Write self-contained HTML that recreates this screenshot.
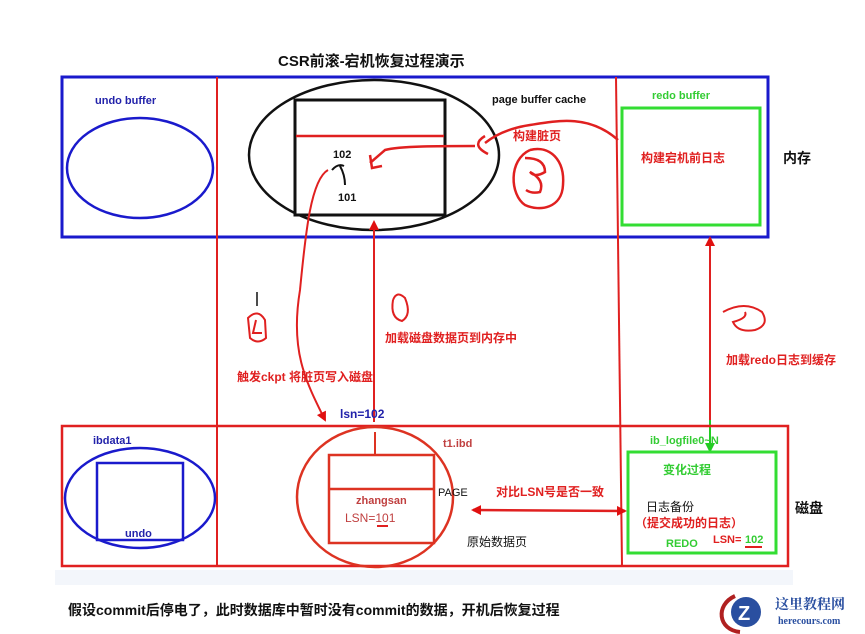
<!DOCTYPE html>
<html><head><meta charset="utf-8"><style>
html,body{margin:0;padding:0;background:#fff;}
svg{display:block;font-family:"Liberation Sans","Noto Sans CJK SC",sans-serif;}
</style></head><body>
<svg width="865" height="634" viewBox="0 0 865 634" xmlns="http://www.w3.org/2000/svg">
<defs>
<marker id="ar" markerUnits="userSpaceOnUse" markerWidth="10" markerHeight="10" refX="8" refY="5" orient="auto-start-reverse"><path d="M0,0 L10,5 L0,10 z" fill="#e01010"/></marker>
<marker id="ag" markerUnits="userSpaceOnUse" markerWidth="10" markerHeight="10" refX="8" refY="5" orient="auto"><path d="M0,0 L10,5 L0,10 z" fill="#22cc22"/></marker>
</defs>
<rect width="865" height="634" fill="#fff"/>
<text x="278" y="66" font-size="15" font-weight="bold" fill="#111">CSR前滚-宕机恢复过程演示</text>
<rect x="62" y="77" width="706" height="160" fill="none" stroke="#1a1acc" stroke-width="3"/>
<line x1="217" y1="77" x2="217" y2="566" stroke="#e02020" stroke-width="2"/>
<line x1="616" y1="77" x2="622" y2="566" stroke="#e02020" stroke-width="2"/>
<text x="95" y="104" font-size="11" font-weight="bold" fill="#2222aa">undo buffer</text>
<ellipse cx="140" cy="168" rx="73" ry="50" fill="none" stroke="#1a1acc" stroke-width="2.5"/>
<ellipse cx="374" cy="155" rx="125" ry="75" fill="none" stroke="#111" stroke-width="2.5"/>
<rect x="295" y="100" width="150" height="115" fill="#fff" stroke="#111" stroke-width="3"/>
<line x1="296" y1="136" x2="444" y2="136" stroke="#e02020" stroke-width="2.5"/>
<text x="333" y="158" font-size="11" font-weight="bold" fill="#111">102</text>
<text x="338" y="201" font-size="11" font-weight="bold" fill="#111">101</text>
<path d="M332,170 Q338,163 344,166 M340,166 Q345,175 345,185" fill="none" stroke="#111" stroke-width="2"/>
<text x="492" y="103" font-size="11" font-weight="bold" fill="#111">page buffer cache</text>
<text x="513" y="140" font-size="12" font-weight="bold" fill="#e02020">构建脏页</text>
<text x="652" y="99" font-size="11" font-weight="bold" fill="#33cc33">redo buffer</text>
<rect x="622" y="108" width="138" height="117" fill="none" stroke="#33dd33" stroke-width="3"/>
<text x="641" y="162" font-size="12" font-weight="bold" fill="#e02020">构建宕机前日志</text>
<text x="783" y="163" font-size="14" font-weight="bold" fill="#111">内存</text>
<path d="M618,140 C590,115 560,120 530,125 C510,128 495,135 485,143" fill="none" stroke="#e02020" stroke-width="2.5"/>
<path d="M485,136 Q470,145 488,154 M475,146 C440,146 400,146 385,150 L370,163" fill="none" stroke="#e02020" stroke-width="2.5"/>
<path d="M370,155 L372,168 L382,166" fill="none" stroke="#e02020" stroke-width="2.5"/>
<path d="M530,150 C550,145 565,160 563,185 C562,208 540,212 525,205 C510,195 508,160 530,150 M525,158 Q545,158 545,172 Q535,178 530,172 Q545,180 540,192 Q532,194 526,190" fill="none" stroke="#e02020" stroke-width="2.5"/>
<line x1="374" y1="422" x2="374" y2="222" stroke="#e02020" stroke-width="2" marker-end="url(#ar)"/>
<path d="M393,300 Q397,290 405,298 Q412,315 402,321 Q390,318 393,300" fill="none" stroke="#e02020" stroke-width="2"/>
<text x="385" y="342" font-size="12" font-weight="bold" fill="#e02020">加载磁盘数据页到内存中</text>
<line x1="710" y1="420" x2="710" y2="238" stroke="#e02020" stroke-width="2" marker-end="url(#ar)"/>
<line x1="710" y1="420" x2="710" y2="451" stroke="#22cc22" stroke-width="2" marker-end="url(#ag)"/>
<path d="M723,312 Q745,300 762,312 Q770,325 755,330 Q738,333 733,322 Q748,318 745,312" fill="none" stroke="#e02020" stroke-width="2"/>
<text x="726" y="364" font-size="12" font-weight="bold" fill="#e02020">加载redo日志到缓存</text>
<path d="M328,170 C310,180 305,240 300,290 C290,350 305,380 325,420" fill="none" stroke="#e02020" stroke-width="2" marker-end="url(#ar)"/>
<line x1="257" y1="292" x2="257" y2="306" stroke="#111" stroke-width="1.5"/>
<path d="M248,318 Q258,308 265,320 L266,338 Q258,345 250,338 Z M256,320 L253,333 L262,333" fill="none" stroke="#e02020" stroke-width="2"/>
<text x="237" y="381" font-size="12" font-weight="bold" fill="#e02020">触发ckpt 将脏页写入磁盘</text>
<text x="340" y="418" font-size="12" font-weight="bold" fill="#2222aa">lsn=102</text>
<rect x="62" y="426" width="726" height="140" fill="none" stroke="#e02020" stroke-width="2.5"/>
<text x="93" y="444" font-size="11" font-weight="bold" fill="#2222aa">ibdata1</text>
<ellipse cx="140" cy="498" rx="75" ry="50" fill="none" stroke="#1a1acc" stroke-width="2.5"/>
<rect x="97" y="463" width="86" height="77" fill="none" stroke="#1a1acc" stroke-width="2.5"/>
<text x="125" y="537" font-size="11" font-weight="bold" fill="#2222aa">undo</text>
<ellipse cx="375" cy="497" rx="78" ry="70" fill="none" stroke="#dd3322" stroke-width="2.5"/>
<line x1="375" y1="432" x2="375" y2="455" stroke="#dd3322" stroke-width="2"/>
<rect x="329" y="455" width="105" height="88" fill="#fff" stroke="#dd3322" stroke-width="2.5"/>
<line x1="330" y1="489" x2="433" y2="489" stroke="#dd3322" stroke-width="2.5"/>
<text x="356" y="504" font-size="11" font-weight="bold" fill="#c04040">zhangsan</text>
<text x="345" y="522" font-size="12" fill="#c04040">LSN=101</text>
<line x1="377" y1="526" x2="388" y2="526" stroke="#e02020" stroke-width="2"/>
<text x="438" y="496" font-size="11" fill="#111">PAGE</text>
<text x="443" y="447" font-size="11" font-weight="bold" fill="#c04040">t1.ibd</text>
<text x="467" y="546" font-size="12" fill="#111">原始数据页</text>
<text x="496" y="496" font-size="12" font-weight="bold" fill="#e02020">对比LSN号是否一致</text>
<line x1="473" y1="510" x2="625" y2="511" stroke="#e02020" stroke-width="2.5" marker-end="url(#ar)" marker-start="url(#ar)"/>
<text x="650" y="444" font-size="11" font-weight="bold" fill="#33cc33">ib_logfile0~N</text>
<rect x="628" y="452" width="148" height="101" fill="none" stroke="#33dd33" stroke-width="3"/>
<text x="663" y="474" font-size="12" font-weight="bold" fill="#33cc33">变化过程</text>
<text x="646" y="511" font-size="12" fill="#111">日志备份</text>
<text x="635" y="527" font-size="12" font-weight="bold" fill="#e02020">（提交成功的日志）</text>
<text x="666" y="547" font-size="11" font-weight="bold" fill="#33cc33">REDO</text>
<text x="713" y="543" font-size="11" font-weight="bold" fill="#e02020">LSN=</text>
<text x="745" y="543" font-size="11" font-weight="bold" fill="#33cc33">102</text>
<line x1="745" y1="547" x2="762" y2="547" stroke="#e02020" stroke-width="2"/>
<text x="795" y="513" font-size="14" font-weight="bold" fill="#111">磁盘</text>
<rect x="55" y="570" width="738" height="15" fill="#f3f6fb"/>
<text x="68" y="615" font-size="14" font-weight="bold" fill="#111">假设commit后停电了，此时数据库中暂时没有commit的数据，开机后恢复过程</text>
<path d="M735,596 C715,605 718,630 740,632" fill="none" stroke="#b02020" stroke-width="4"/>
<circle cx="746" cy="612" r="15" fill="#2a4fa0"/>
<text x="738" y="620" font-size="20" font-weight="bold" fill="#fff">Z</text>
<text x="775" y="609" font-size="14" font-weight="bold" fill="#2a4fa0" font-family="Liberation Serif,Noto Serif CJK SC,serif">这里教程网</text>
<text x="778" y="624" font-size="10" font-weight="bold" fill="#2a4fa0" font-family="Liberation Serif,serif">herecours.com</text>
</svg>
</body></html>
